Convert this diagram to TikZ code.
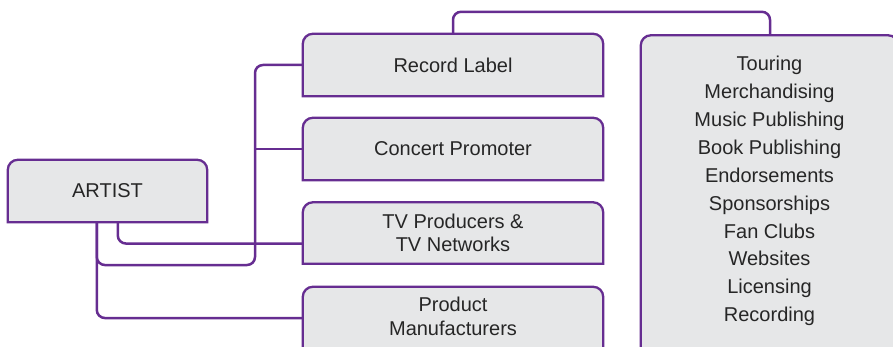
\documentclass[tikz,border=0pt]{standalone}
\usepackage{fontspec}
\setmainfont{Liberation Sans}
\usetikzlibrary{backgrounds}
\definecolor{brandpurple}{HTML}{662D91}
\definecolor{panelgray}{HTML}{E6E7E8}
\definecolor{inkgray}{HTML}{262626}
\tikzset{
  entity/.style={rectangle, inner sep=0pt, text=inkgray, align=center,
    font=\fontsize{20}{23.5}\selectfont},
  link/.style={draw=brandpurple, line width=2.5pt, rounded corners=8pt},
  panelline/.style={draw=brandpurple, line width=2.3pt},
}
\begin{document}
\begin{tikzpicture}[x=1pt, y=-1pt]
  \useasboundingbox (0,0) rectangle (893,347);

  % entities
  \node[entity, minimum width=199pt, minimum height=62pt] (artist) at (107.5,191) {ARTIST};
  \node[entity, minimum width=300pt, minimum height=62pt] (label) at (453,65) {Record Label};
  \node[entity, minimum width=300pt, minimum height=62pt] (promoter) at (453,149) {Concert Promoter};
  \node[entity, minimum width=300pt, minimum height=61pt] (tv) at (453,233) {TV Producers \&\\TV Networks};
  \node[entity, minimum width=300pt, minimum height=59pt] (product) at (453,316.5) {Product\\Manufacturers};
  \node[entity, minimum width=257pt, minimum height=311pt,
        font=\fontsize{20}{27.9}\selectfont] (services) at (769.5,191)
    {Touring\\Merchandising\\Music Publishing\\Book Publishing\\Endorsements\\
     Sponsorships\\Fan Clubs\\Websites\\Licensing\\Recording};

  \begin{scope}[on background layer]
    \clip (0,0) rectangle (893,347);

    % connectors
    \coordinate (trunk) at ([xshift=89pt]artist.south west);
    \coordinate (bus) at (255,265);
    \draw[link] (trunk) |- (bus) |- (label.west);
    \draw[link] (trunk) |- ([yshift=-1.5pt]product.west);
    \draw[link] (bus |- promoter.west) -- (promoter.west);
    \draw[link] ([xshift=110pt]artist.south west) |- ([yshift=-10.5pt]tv.west);
    \draw[link] (label.north) -- ++(0,-22) -| ([xshift=0.5pt]services.north);

    % boxes with rounded top corners
    \foreach \n in {artist,label,promoter,tv}
      \path[panelline, fill=panelgray] (\n.south west)
        [rounded corners=10pt] -- (\n.north west) -- (\n.north east)
        -- ([yshift=-20pt]\n.north east) [sharp corners] -- (\n.south east) -- cycle;
    % boxes running past the lower edge: no bottom line
    \foreach \n in {product,services} {
      \path[fill=panelgray] ([yshift=-6pt]\n.south west)
        [rounded corners=10pt] -- (\n.north west) -- (\n.north east)
        -- ([yshift=-20pt]\n.north east) [sharp corners] -- ([yshift=-6pt]\n.south east) -- cycle;
      \path[panelline] ([yshift=-6pt]\n.south west)
        [rounded corners=10pt] -- (\n.north west) -- (\n.north east)
        -- ([yshift=-20pt]\n.north east) [sharp corners] -- ([yshift=-6pt]\n.south east);
    }
  \end{scope}
\end{tikzpicture}
\end{document}
